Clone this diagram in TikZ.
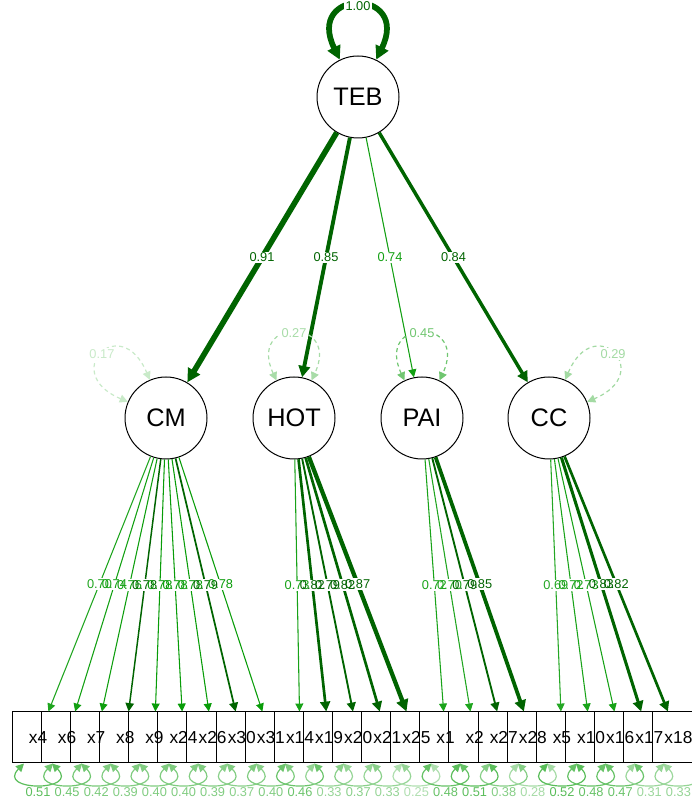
\documentclass[tikz,border=0pt]{standalone}
\usepackage{fontspec}
\setmainfont{Liberation Sans}
\usetikzlibrary{arrows.meta}
\definecolor{g}{HTML}{009900}
\definecolor{dg}{HTML}{006400}
\tikzset{
	latent/.style={circle,draw,line width=0.75pt,fill=white,minimum size=61.5pt,inner sep=0pt,font=\fontsize{19}{21}\selectfont},
	manifest/.style={rectangle,draw,line width=0.75pt,fill=white,minimum width=38.5pt,minimum height=38.25pt,inner sep=0pt},
	mtext/.style={inner sep=0pt,font=\fontsize{13}{15}\selectfont},
	lbl/.style={inner sep=1pt,font=\fontsize{9.6}{10}\selectfont},
	lblbg/.style={lbl,fill=white},
	resid/.style={<->,line width=0.9pt},
	lres/.style={<->,line width=0.9pt,dash pattern=on 3pt off 2.5pt},
}

\begin{document}
\begin{tikzpicture}[x=0.75pt,y=0.75pt,>={Triangle[length=5pt 1.2,width=5pt 1.2]}]
			\useasboundingbox (0,0) rectangle (692,800);
			\node[latent] (TEB) at (358,703) {TEB};
			\node[latent] (CM) at (166,382) {CM};
			\node[latent] (HOT) at (294,382) {HOT};
			\node[latent] (PAI) at (422,382) {PAI};
			\node[latent] (CC) at (549,382) {CC};
			\def\items{x4,x6,x7,x8,x9,x24,x26,x30,x31,x14,x19,x20,x21,x25,x1,x2,x27,x28,x5,x10,x16,x17,x18}
			\foreach \nm [count=\i from 0] in \items
				\node[manifest] (\nm) at ({38+29.11*\i},62.5) {};
			\foreach \nm in \items
				\node[mtext] (t\nm) at (\nm) {\nm};
			\foreach \lv/\val/\col/\lw in {CM/0.91/dg/4.2,HOT/0.85/dg/2.9,PAI/0.74/g!93/0.8,CC/0.84/dg/2.6}
				\draw[->,color=\col,line width=\lw pt] (TEB) -- node[lblbg,text=\col] (v\lv) {\val} (\lv);
			\def\loadings{CM/x4/0.70/g!88/0.8,CM/x6/0.74/g!93/0.8,CM/x7/0.76/g!95/0.8,CM/x8/0.78/dg/1.1,CM/x9/0.78/g!97/0.8,CM/x24/0.78/g!97/0.8,CM/x26/0.78/g!97/0.8,CM/x30/0.79/dg/1.3,CM/x31/0.78/g!97/0.8,HOT/x14/0.73/g!91/0.8,HOT/x19/0.82/dg/2.0,HOT/x20/0.79/dg/1.4,HOT/x21/0.82/dg/2.0,HOT/x25/0.87/dg/3.2,PAI/x1/0.72/g!90/0.8,PAI/x2/0.70/g!88/0.8,PAI/x27/0.79/dg/1.4,PAI/x28/0.85/dg/2.8,CC/x5/0.69/g!86/0.8,CC/x10/0.72/g!90/0.8,CC/x16/0.73/g!91/0.8,CC/x17/0.83/dg/2.3,CC/x18/0.82/dg/2.0}
			\foreach \lv/\nm/\val/\col/\lw in \loadings
				\draw[->,color=\col,line width=\lw pt] (\lv) -- (\nm);
			\foreach \lv/\nm/\val/\col/\lw in \loadings
				\path (\lv) -- node[lblbg] (b\nm) {\phantom{\val}} (\nm);
			\foreach \lv/\nm/\val/\col/\lw in \loadings
				\path (\lv) -- node[lbl,text=\col] (v\nm) {\val} (\nm);
			\foreach \nm/\val in {x4/0.51,x6/0.45,x7/0.42,x8/0.39,x9/0.40,x24/0.40,x26/0.39,x30/0.37,x31/0.40,x14/0.46,x19/0.33,x20/0.37,x21/0.33,x25/0.25,x1/0.48,x2/0.51,x27/0.38,x28/0.28,x5/0.52,x10/0.48,x16/0.47,x17/0.31,x18/0.33}{
				\pgfmathtruncatemacro\pct{round(\val*125)}
				\draw[resid,color=g!\pct] ([xshift=-10.5pt]\nm.south) .. controls +(-135:40) and +(-45:40) .. ([xshift=10.5pt]\nm.south);
				\node[lblbg,text=g!\pct] (r\nm) at ([yshift=-21.75pt]\nm.south) {\val};
			}
			\draw[lres,color=g!21] (CM.157) .. controls +(157:75) and +(113:75) .. node[lblbg,text=g!21] (rCM) {0.17} (CM.113);
			\draw[lres,color=g!34] (HOT.115) .. controls +(115:70) and +(65:70) .. node[lblbg,text=g!34] (rHOT) {0.27} (HOT.65);
			\draw[lres,color=g!56] (PAI.115) .. controls +(115:70) and +(65:70) .. node[lblbg,text=g!56] (rPAI) {0.45} (PAI.65);
			\draw[lres,color=g!36] (CC.67) .. controls +(67:75) and +(23:75) .. node[lblbg,text=g!36] (rCC) {0.29} (CC.23);
			\draw[<->,dg,line width=4.3pt] (TEB.116) .. controls +(116:80) and +(64:80) .. node[lblbg,text=dg] (rTEB) {1.00} (TEB.64);
		\end{tikzpicture}
\end{document}
